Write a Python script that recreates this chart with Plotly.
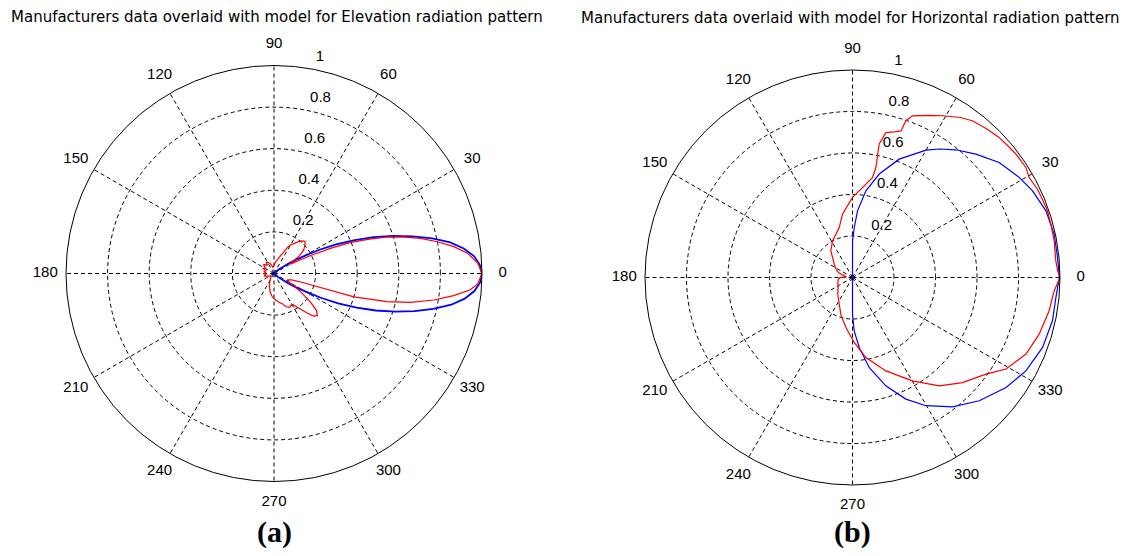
import plotly.graph_objects as go

# ---------------- data ----------------
angle_ticks = [0, 30, 60, 90, 120, 150, 180, 210, 240, 270, 300, 330]
angle_labels = ["0", "30", "60", "90", "120", "150", "180", "210", "240", "270", "300", "330"]
radial_ticks = [0.2, 0.4, 0.6, 0.8, 1.0]
radial_labels = ["0.2", "0.4", "0.6", "0.8", "1"]

# (a) Elevation pattern - model (blue)
el_model_theta = [-90, -50, -45, -40, -35, -32.5, -30, -27.5, -25, -22.5, -20, -17.5, -15, -12.5,
                  -10, -7.5, -5, -2.5, 0, 2.5, 5, 7.5, 10, 12.5, 15, 17.5, 20, 22.5, 25, 27.5,
                  30, 32.5, 35, 40, 45, 50, 90]
el_model_r = [0, 0, 0.01, 0.03, 0.08, 0.12, 0.17, 0.25, 0.34, 0.43, 0.52, 0.61, 0.70, 0.785,
              0.865, 0.925, 0.967, 0.992, 1.0, 0.99, 0.965, 0.92, 0.86, 0.78, 0.69, 0.60,
              0.51, 0.42, 0.33, 0.25, 0.17, 0.12, 0.08, 0.03, 0.01, 0, 0]

# (a) Elevation pattern - manufacturer's data (red)
el_data_theta = [0, 3, 6, 8.5, 11, 13.5, 16, 18, 20, 22, 24, 26, 28, 30, 32,
                 35, 38, 42, 46, 48, 50, 53, 57, 60, 63, 66, 70, 75, 80, 85, 90,
                 100, 110, 118, 125, 130, 135, 140, 148, 155, 160, 168, 175, 180,
                 188, 195, 205, 215, 225, 235, 245, 252, 258, 265, 270, 275, 280,
                 285, 290, 295, 300, 305, 310, 313, 316, 319, 322, 326, 330, 334,
                 338, 340, 342.5, 343.7, 346, 348, 350.6, 353, 355.2, 357, 360]
el_data_r = [1.0, 0.98, 0.935, 0.875, 0.80, 0.725, 0.64, 0.565, 0.48, 0.40, 0.30, 0.20, 0.12, 0.09, 0.10,
             0.15, 0.18, 0.20, 0.215, 0.21, 0.205, 0.19, 0.17, 0.16, 0.14, 0.11, 0.09, 0.07, 0.06, 0.05, 0.04,
             0.03, 0.05, 0.06, 0.065, 0.05, 0.06, 0.065, 0.05, 0.06, 0.04, 0.05, 0.04, 0.05,
             0.04, 0.05, 0.03, 0.02, 0.02, 0.03, 0.05, 0.07, 0.09, 0.11, 0.12, 0.13, 0.14,
             0.15, 0.17, 0.18, 0.17, 0.20, 0.25, 0.28, 0.29, 0.27, 0.22, 0.15, 0.09, 0.07,
             0.08, 0.09, 0.14, 0.40, 0.56, 0.67, 0.78, 0.87, 0.945, 0.98, 1.0]

# (b) Horizontal pattern - model (blue)
hz_model_theta = [-90, -90, -88.2, -84.5, -79.5, -72.9, -66.3, -60.2, -52.3, -44.2, -35.6,
                  -28.3, -20.2, -12.2, -5.6, 0, 5.6, 12.1, 19, 25.7, 31, 38.1, 45, 51, 56,
                  60, 68.5, 75.5, 81.2, 85.7, 88, 89.9, 90, 270]
hz_model_r = [0, 0.176, 0.257, 0.339, 0.441, 0.546, 0.64, 0.712, 0.788, 0.852, 0.91,
              0.949, 0.976, 0.986, 0.985, 0.997, 0.993, 0.994, 0.986, 0.963, 0.937, 0.898,
              0.841, 0.792, 0.747, 0.709, 0.613, 0.515, 0.423, 0.322, 0.24, 0.177, 0, 0]

# (b) Horizontal pattern - manufacturer's data (red)
hz_data_theta = [0, 1.9, 4.7, 10.3, 15, 18.9, 22, 25.5, 29.5, 32.4, 37.1, 40, 43.7, 48, 52.6,
                 56, 60.9, 65, 69.6, 71.2, 71.7, 74, 77, 78.7, 78, 78.7, 83.7, 90, 99, 104.9,
                 118.6, 129, 143.8, 153, 161, 168, 174, 180, 188, 200, 215, 230, 243.4, 253,
                 262.5, 271.5, 279.5, 289.7, 300.1, 308.7, 316.3, 324.1, 329.2, 336.2, 343.1,
                 350.4, 356.2, 360]
hz_data_r = [1.0, 0.989, 0.983, 0.988, 0.99, 0.993, 0.99, 0.988, 0.978, 0.99, 0.987, 0.982,
             0.977, 0.965, 0.951, 0.93, 0.892, 0.862, 0.831, 0.798, 0.744, 0.73, 0.717, 0.656,
             0.542, 0.491, 0.436, 0.386, 0.309, 0.249, 0.201, 0.166, 0.109, 0.09, 0.07, 0.04,
             0.03, 0.06, 0.07, 0.075, 0.085, 0.11, 0.143, 0.19, 0.243, 0.313, 0.391, 0.478,
             0.576, 0.669, 0.733, 0.794, 0.861, 0.914, 0.94, 0.961, 0.974, 1.0]

titles = ["Manufacturers data overlaid with model for Elevation radiation pattern",
          "Manufacturers data overlaid with model for Horizontal radiation pattern"]
panel_labels = ["(a)", "(b)"]

# ---------------- figure ----------------
# page body has an 8px margin, so the figure is drawn 8px in from the top-left
OFF = 8
W, H = 1121, 548
FONT = "Liberation Sans, Arial, sans-serif"
TITLE_FONT = "DejaVu Sans, Verdana, sans-serif"
SERIF = "Liberation Serif, Times New Roman, serif"
LABEL_RMAX = 1.12

def px(x):
    return (x - OFF) / W

def py(y):
    return 1 - (y - OFF) / H

def domain(cx, cy, rad):
    return dict(x=[px(cx - rad), px(cx + rad)], y=[py(cy + rad), py(cy - rad)])

panels = [
    dict(sub="polar", lab="polar3", cx=274, cy=273.5, R=208,
         mt=el_model_theta, mr=el_model_r, dt=el_data_theta, dr=el_data_r, mw=1.8),
    dict(sub="polar2", lab="polar4", cx=852.5, cy=277.5, R=207.5,
         mt=hz_model_theta, mr=hz_model_r, dt=hz_data_theta, dr=hz_data_r, mw=1.2),
]

fig = go.Figure()

for p in panels:
    fig.add_trace(go.Scatterpolar(theta=p["mt"], r=p["mr"], mode="lines",
                                  line=dict(color="#0000ff", width=p["mw"]),
                                  subplot=p["sub"], hoverinfo="skip"))
    fig.add_trace(go.Scatterpolar(theta=p["dt"], r=p["dr"], mode="lines",
                                  line=dict(color="#ff0000", width=1.2),
                                  subplot=p["sub"], hoverinfo="skip"))
for p in panels:
    # angular labels at 1.1 * rmax (in an overlaid, invisible label subplot)
    fig.add_trace(go.Scatterpolar(theta=angle_ticks, r=[1.1] * len(angle_ticks),
                                  mode="text", text=angle_labels,
                                  textposition="middle center",
                                  textfont=dict(family=FONT, size=15, color="black"),
                                  cliponaxis=False, subplot=p["lab"], hoverinfo="skip"))
    # radial labels at 82 degrees
    fig.add_trace(go.Scatterpolar(theta=[82] * len(radial_ticks),
                                  r=[v + 0.015 for v in radial_ticks],
                                  mode="text",
                                  text=["\u00a0\u00a0\u00a0" + s for s in radial_labels],
                                  textposition="top right",
                                  textfont=dict(family=FONT, size=15, color="black"),
                                  cliponaxis=False, subplot=p["lab"], hoverinfo="skip"))

def polar_layout(dom):
    return dict(
        domain=dom,
        bgcolor="white",
        angularaxis=dict(rotation=0, direction="counterclockwise",
                         tickmode="array", tickvals=angle_ticks,
                         showticklabels=False, ticks="",
                         showgrid=True, gridcolor="black", gridwidth=1,
                         griddash="4px,3px",
                         showline=True, linecolor="black", linewidth=1),
        radialaxis=dict(range=[0, 1], tickmode="array", tickvals=radial_ticks[:-1],
                        showticklabels=False, ticks="", showline=False,
                        showgrid=True, gridcolor="black", gridwidth=1,
                        griddash="4px,3px"),
    )

def label_layout(dom):
    return dict(
        domain=dom,
        bgcolor="rgba(0,0,0,0)",
        angularaxis=dict(rotation=0, direction="counterclockwise", visible=False),
        radialaxis=dict(range=[0, LABEL_RMAX], visible=False),
    )

lay = dict(
    width=W, height=H,
    margin=dict(l=0, r=0, t=0, b=0),
    paper_bgcolor="white", plot_bgcolor="white",
    showlegend=False,
)
for p in panels:
    lay[p["sub"]] = polar_layout(domain(p["cx"], p["cy"], p["R"]))
    lay[p["lab"]] = label_layout(domain(p["cx"], p["cy"], p["R"] * LABEL_RMAX))
fig.update_layout(**lay)

title_pos = [(277, 17), (850, 18)]
for t, (tx, ty) in zip(titles, title_pos):
    fig.add_annotation(x=px(tx), y=py(ty), xref="paper", yref="paper",
                       text=t, showarrow=False, xanchor="center", yanchor="middle",
                       font=dict(family=TITLE_FONT, size=15, color="black"))

label_pos = [(274, 532), (852, 532)]
for t, (tx, ty) in zip(panel_labels, label_pos):
    fig.add_annotation(x=px(tx), y=py(ty), xref="paper", yref="paper",
                       text="<b>" + t + "</b>", showarrow=False,
                       xanchor="center", yanchor="middle",
                       font=dict(family=SERIF, size=30, color="black"))

fig.write_html("out.html")
